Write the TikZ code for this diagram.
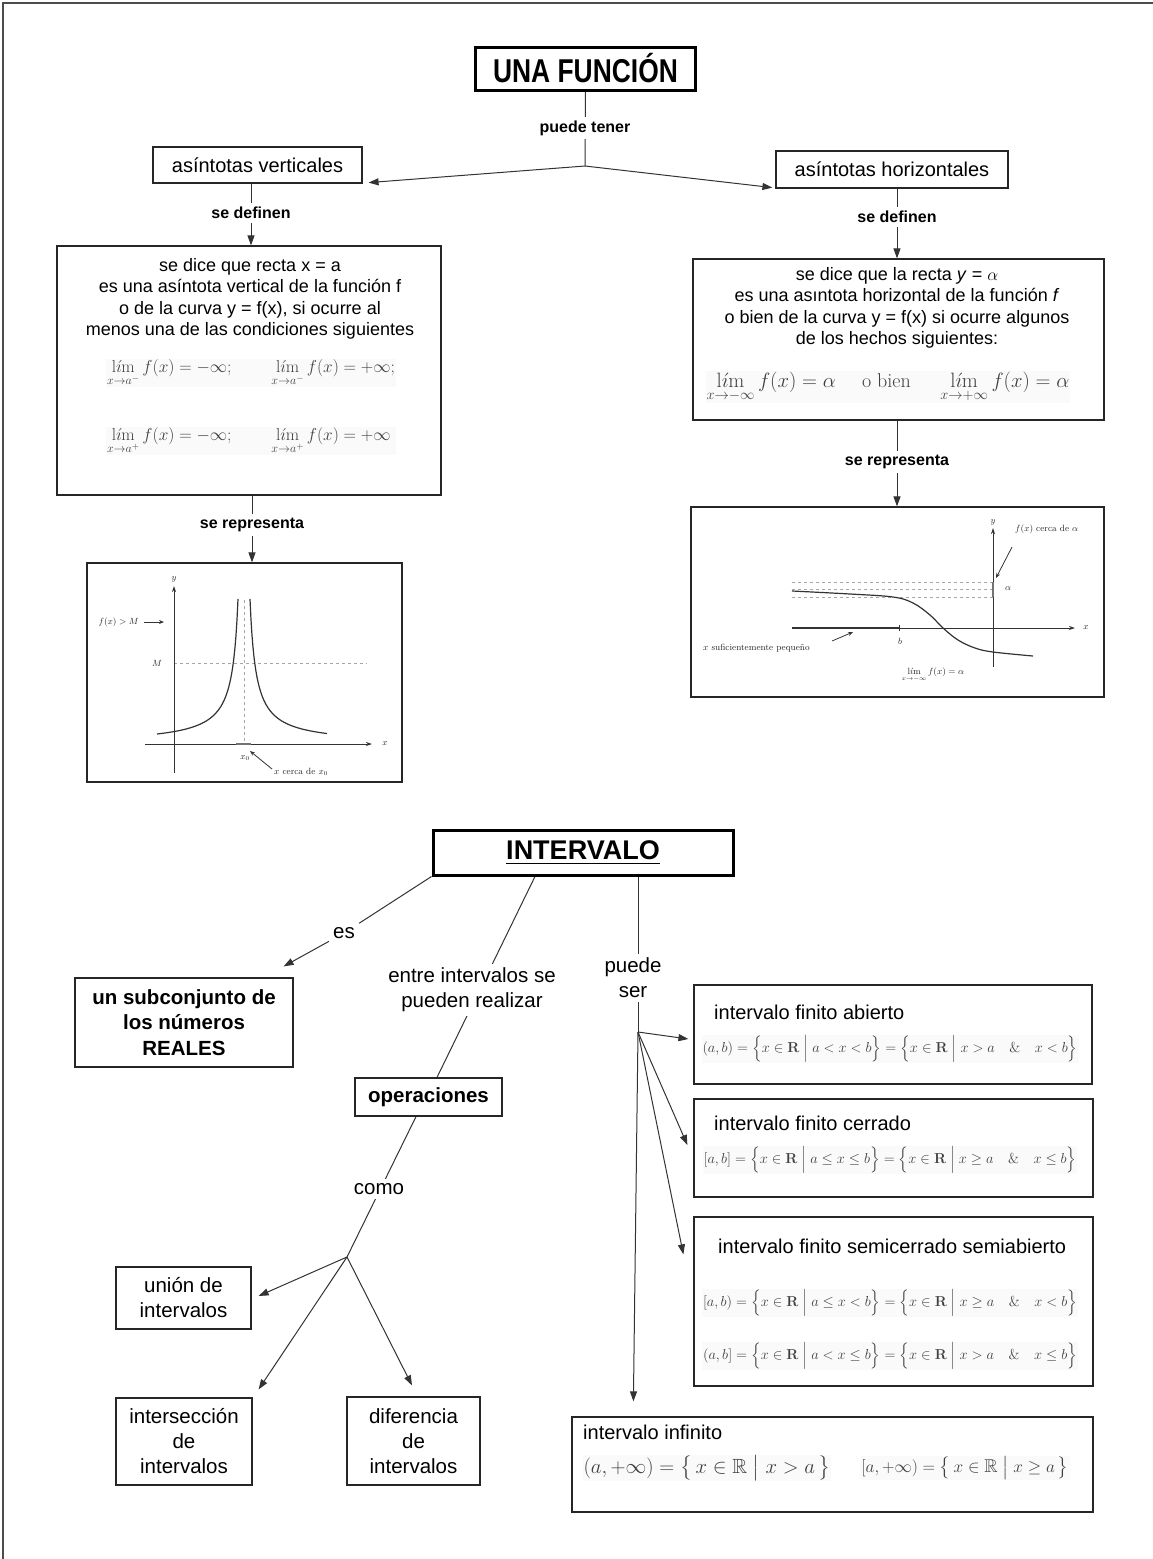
\documentclass[tikz,border=0pt]{standalone}
\usepackage{amsmath,amssymb}
\usepackage[no-math]{fontspec}
\setsansfont{Liberation Sans}
\newfontfamily\narrowsf[FakeStretch=0.8]{Liberation Sans}
\usetikzlibrary{arrows.meta,backgrounds}
\newcommand{\lm}{\mathop{\mathrm{l\acute{\imath}m}}\limits}
\newcommand{\sz}[2]{\sffamily\fontsize{#1}{#2}\selectfont}
\begin{document}
\begin{tikzpicture}[x=1pt,y=-1pt,
  box/.style={draw=black!85, line width=1.2pt, inner sep=0pt},
  ttl/.style={draw=black, line width=3pt, inner sep=0pt},
  ln/.style={draw=black!80, line width=1pt},
  arr/.style={ln, -{Triangle[length=10pt,width=7pt]}},
  lab/.style={fill=white, inner sep=4pt, align=center},
  ulab/.style={lab, font=\sz{16}{19}\bfseries},
  llab/.style={lab, font=\sz{20.5}{25}},
  mth/.style={text=black!75, fill=black!2, inner sep=1pt},
  gtx/.style={font=\rmfamily\fontsize{9}{10}\selectfont, inner sep=1pt, text=black!85},
  gax/.style={line width=0.9pt, black!80, -{Stealth[length=6pt,width=4pt]}},
  gds/.style={dashed, black!35, line width=0.6pt},
]
\useasboundingbox (0,0) rectangle (1153,1559);

% ---------------- upper part ----------------
\node[ttl, minimum width=220pt, minimum height=43pt, font=\narrowsf\bfseries\fontsize{33}{36}\selectfont] (fun) at (585.5,68.5) {UNA FUNCIÓN};
\node[ulab] (pt) at (585,128) {puede tener};
\coordinate (j1) at (585,166);
\node[box, minimum width=209pt, minimum height=36pt, font=\sz{20}{24}] (av) at (257.5,165) {asíntotas verticales};
\node[box, minimum width=232pt, minimum height=37pt, font=\sz{20}{24}] (ah) at (892,169.5) {asíntotas horizontales};
\node[ulab] (sd1) at (251,213) {se definen};
\node[ulab] (sd2) at (897,217) {se definen};

\node[box, minimum width=384pt, minimum height=249pt] (def1) at (249,370.5) {};
\node[align=center, font=\sz{18}{21.5}, inner sep=0pt] (def1t) at (250,299)
  {se dice que recta x = a\\es una asíntota vertical de la función f\\o de la curva y = f(x), si ocurre al\\menos una de las condiciones siguientes};
\node[mth, font=\fontsize{18.5}{22}\selectfont] (def1m1) at (251,373)
  {$\displaystyle\lm_{x\to a^-} f(x) = -\infty;\qquad \lm_{x\to a^-} f(x) = +\infty;$};
\node[mth, font=\fontsize{18.5}{22}\selectfont] (def1m2) at (251,441)
  {$\displaystyle\lm_{x\to a^+} f(x) = -\infty;\qquad \lm_{x\to a^+} f(x) = +\infty\phantom{;}$};

\node[box, minimum width=411pt, minimum height=161pt] (def2) at (898.5,339.5) {};
\node[align=center, font=\sz{18}{21.5}, inner sep=0pt] (def2t) at (897,308)
  {se dice que la recta \textit{y} = $\alpha$\\es una asıntota horizontal de la función \textit{f}\\o bien de la curva y = f(x) si ocurre algunos\\de los hechos siguientes:};
\node[mth, font=\fontsize{20}{24}\selectfont] (def2m) at (888,387)
  {$\displaystyle\lm_{x\to-\infty} f(x)=\alpha\quad\ \text{o bien}\quad\ \lm_{x\to+\infty} f(x)=\alpha$};

\node[ulab] (sr1) at (252,525) {se representa};
\node[ulab] (sr2) at (897,462) {se representa};

\node[box, minimum width=315pt, minimum height=219pt] (g1) at (244.5,672.5) {};
\node[box, minimum width=413pt, minimum height=190pt] (g2) at (897.5,602) {};

% graph 1
\draw[gds] (244,600) -- (244,744);
\draw[gds] (174,663) -- (367,663);
\draw[gax] (174,773) -- (174,586);
\draw[gax] (145,744) -- (372,744);
\draw[line width=1.2pt, black!80] plot[domain=6:87, samples=80] ({244-\x},{744-870/\x});
\draw[line width=1.2pt, black!80] plot[domain=6:83, samples=80] ({244+\x},{744-870/\x});
\draw[line width=2.5pt, black!55] (236,744) -- (251,744);
\draw[line width=0.9pt, black!80, -{Stealth[length=5pt,width=4pt]}] (144,622) -- (164,622);
\draw[line width=0.8pt, black!80, -{Stealth[length=5pt,width=4pt]}] (272,769) -- (250,751);
\node[gtx] (g1y) at (174,579) {$y$};
\node[gtx] (g1x) at (385,744) {$x$};
\node[gtx] (g1M) at (157,663) {$M$};
\node[gtx, anchor=east] (g1f) at (140,622) {$f(x) > M$};
\node[gtx] (g1x0) at (245,758) {$x_0$};
\node[gtx, anchor=west] (g1c) at (273,772) {$x$ cerca de $x_0$};

% graph 2
\draw[gds] (792,582) -- (993,582);
\draw[gds] (792,589) -- (993,589);
\draw[gds] (792,597) -- (993,597);
\draw[gax] (993,667) -- (993,528);
\draw[gax] (792,628) -- (1075,628);
\draw[line width=2.2pt, black!80] (792,628) -- (899,628);
\draw[line width=0.8pt, black!80] (899,625) -- (899,631);
\draw[line width=2.5pt, black!55] (993,582) -- (993,597);
\draw[line width=1.2pt, black!80] plot[smooth, tension=0.6] coordinates
  {(792,591) (850,594) (893,597) (913,603) (930,615) (943,628) (958,640) (975,648) (993,652) (1033,656)};
\draw[line width=0.8pt, black!80, -{Stealth[length=5pt,width=4pt]}] (1012,547) -- (996,578);
\draw[line width=0.8pt, black!80, -{Stealth[length=5pt,width=4pt]}] (832,641) -- (853,632);
\node[gtx] (g2y) at (993,522) {$y$};
\node[gtx] (g2x) at (1086,628) {$x$};
\node[gtx] (g2b) at (900,641) {$b$};
\node[gtx] (g2a) at (1008,589) {$\alpha$};
\node[gtx, anchor=west] (g2f) at (1014,529) {$f(x)$ cerca de $\alpha$};
\node[gtx, anchor=west] (g2s) at (702,648) {$x$ suficientemente pequeño};
\node[gtx] (g2l) at (933,675) {$\lm_{x\to-\infty} f(x) = \alpha$};

% ---------------- lower part ----------------
\node[ttl, minimum width=300pt, minimum height=45pt, font=\sz{27}{30}\bfseries] (iv) at (583,852.5) {\underline{INTERVALO}};
\node[llab] (es) at (344,933) {es};
\node[box, minimum width=218pt, minimum height=89pt, font=\sz{20.5}{25.5}\bfseries, align=center] (sub) at (184,1022.5) {un subconjunto de\\los números\\REALES};
\node[llab] (ent) at (472,990) {entre intervalos se\\pueden realizar};
\node[box, minimum width=147pt, minimum height=38pt, font=\sz{20.5}{24}\bfseries] (op) at (428.5,1097) {operaciones};
\node[llab] (como) at (379,1189) {como};
\coordinate (j2) at (347,1257);
\node[box, minimum width=135pt, minimum height=62pt, font=\sz{20.5}{25}, align=center] (un) at (183.5,1298) {unión de\\intervalos};
\node[box, minimum width=136pt, minimum height=87pt, font=\sz{20.5}{25}, align=center] (inter) at (184,1441.5) {intersección\\de\\intervalos};
\node[box, minimum width=133pt, minimum height=88pt, font=\sz{20.5}{25}, align=center] (dif) at (413.5,1441) {diferencia\\de\\intervalos};
\node[llab] (ps) at (633,978) {puede\\ser};
\coordinate (j3) at (638,1032);

\node[box, minimum width=398pt, minimum height=99pt] (ab) at (893,1034.5) {};
\node[anchor=west, font=\sz{20}{24}, inner sep=0pt] (abt) at (714,1012) {intervalo finito abierto};
\node[mth, font=\fontsize{14.5}{17}\selectfont] (abm) at (890,1049)
  {$(a,b)=\Bigl\{x\in\mathbf{R}\Bigm|a<x<b\Bigr\}=\Bigl\{x\in\mathbf{R}\Bigm|x>a\quad\&\quad x<b\Bigr\}$};

\node[box, minimum width=399pt, minimum height=98pt] (ce) at (893.5,1148) {};
\node[anchor=west, font=\sz{20}{24}, inner sep=0pt] (cet) at (714,1123) {intervalo finito cerrado};
\node[mth, font=\fontsize{14.5}{17}\selectfont] (cem) at (890,1160)
  {$[a,b]=\Bigl\{x\in\mathbf{R}\Bigm|a\le x\le b\Bigr\}=\Bigl\{x\in\mathbf{R}\Bigm|x\ge a\quad\&\quad x\le b\Bigr\}$};

\node[box, minimum width=399pt, minimum height=169pt] (se) at (893.5,1301.5) {};
\node[anchor=west, font=\sz{20}{24}, inner sep=0pt] (set) at (718,1246) {intervalo finito semicerrado semiabierto};
\node[mth, font=\fontsize{14.5}{17}\selectfont] (sem1) at (890,1303)
  {$[a,b)=\Bigl\{x\in\mathbf{R}\Bigm|a\le x<b\Bigr\}=\Bigl\{x\in\mathbf{R}\Bigm|x\ge a\quad\&\quad x<b\Bigr\}$};
\node[mth, font=\fontsize{14.5}{17}\selectfont] (sem2) at (890,1356)
  {$(a,b]=\Bigl\{x\in\mathbf{R}\Bigm|a<x\le b\Bigr\}=\Bigl\{x\in\mathbf{R}\Bigm|x>a\quad\&\quad x\le b\Bigr\}$};

\node[box, minimum width=521pt, minimum height=95pt] (inf) at (832.5,1464.5) {};
\node[anchor=west, font=\sz{20}{24}, inner sep=0pt] (inft) at (583,1432) {intervalo infinito};
\node[mth, font=\fontsize{20.5}{24}\selectfont] (infm1) at (707,1468)
  {$(a,+\infty)=\bigl\{\,x\in\mathbb{R}\bigm|x>a\,\bigr\}$};
\node[mth, font=\fontsize{18.5}{22}\selectfont] (infm2) at (965,1468)
  {$[a,+\infty)=\bigl\{\,x\in\mathbb{R}\bigm|x\ge a\,\bigr\}$};

% ---------------- connectors ----------------
\begin{pgfonlayer}{background}
\draw[line width=2pt, black!70] (3,1559) -- (3,3) -- (1153,3);
\draw[ln] (fun.south) -- (j1);
\draw[arr] (j1) -- ([xshift=6pt,yshift=1pt]av.south east);
\draw[arr] (j1) -- ([xshift=-3pt,yshift=1pt]ah.south west);
\draw[arr] (av.south -| sd1) -- (def1.north -| sd1);
\draw[arr] (ah.south -| sd2) -- (def2.north -| sd2);
\draw[arr] (def1.south -| sr1) -- (g1.north -| sr1);
\draw[arr] (def2.south -| sr2) -- (g2.north -| sr2);

\draw[ln] (iv.south west) -- (es);
\draw[arr] (es) -- ([xshift=-10pt,yshift=11pt]sub.north east);
\draw[ln] ([xshift=-48pt]iv.south) -- ([xshift=8.5pt]op.north);
\draw[ln] ([xshift=-12.5pt]op.south) -- (j2);
\draw[arr] (j2) -- ([xshift=7pt,yshift=2pt]un.east);
\draw[arr] (j2) -- ([xshift=6pt,yshift=8pt]inter.north east);
\draw[arr] (j2) -- ([xshift=-1.5pt,yshift=11pt]dif.north);
\draw[ln] ([xshift=55pt]iv.south) -- (j3);
\draw[arr] (j3) -- ([xshift=-5pt,yshift=-4.5pt]ab.west);
\draw[arr] (j3) -- ([xshift=-6pt,yshift=3pt]ce.west);
\draw[arr] (j3) -- ([xshift=-10pt,yshift=-38pt]se.north west);
\draw[arr] (j3) -- ([xshift=62pt,yshift=15pt]inf.north west);
\end{pgfonlayer}
\end{tikzpicture}
\end{document}
